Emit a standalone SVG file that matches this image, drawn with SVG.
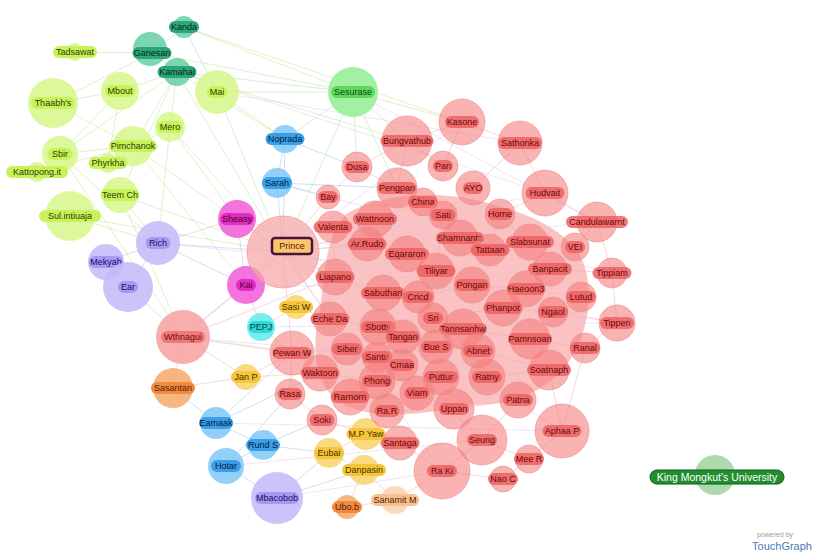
<svg xmlns="http://www.w3.org/2000/svg" width="817" height="558" viewBox="0 0 817 558">
<style>
text{font-family:"Liberation Sans",Arial,sans-serif;font-size:9px;text-anchor:middle}
.e path{fill:none;stroke-width:.8}
.lime circle{fill:#d6f78a;fill-opacity:.85}.lime rect{fill:#c8f25a}.lime text{fill:#2c3c00}
.teal circle{fill:#5acc9e;fill-opacity:.8}.teal rect{fill:#2fa57a}.teal text{fill:#002a1a}
.green circle{fill:#98ee98;fill-opacity:.9}.green rect{fill:#60d860}.green text{fill:#0a4a0a}
.blue circle{fill:#80c8f8;fill-opacity:.85}.blue rect{fill:#3a9ee8}.blue text{fill:#001a40}
.mag circle{fill:#f25ad8;fill-opacity:.85}.mag rect{fill:#e02cc0}.mag text{fill:#4a0030}
.pur circle{fill:#c2b8f8;fill-opacity:.85}.pur rect{fill:#a898f0}.pur text{fill:#1a0a6a}
.red circle{fill:#f47c7c;fill-opacity:.58;stroke:#ee8a8a;stroke-opacity:.6}.red rect{fill:#ec6262;fill-opacity:.85}.red text{fill:#6a0808}
.sal circle{fill:#f6a0a0;fill-opacity:.85}.sal rect{fill:#f07878}.sal text{fill:#7a0a0a}
.ora circle{fill:#f6a868;fill-opacity:.85}.ora rect{fill:#f08a40}.ora text{fill:#5a2000}
.gold circle{fill:#fad060;fill-opacity:.8}.gold rect{fill:#f5c53a}.gold text{fill:#4a3000}
.cyan circle{fill:#60eaea;fill-opacity:.85}.cyan rect{fill:#30d8d8}.cyan text{fill:#004444}
</style>
<rect width="817" height="558" fill="#ffffff"/>
<path id="cluster-shade" d="M345 215C375 195 430 190 475 200C520 210 560 225 580 255C595 285 590 330 570 360C545 395 510 405 470 405C420 415 375 420 345 405C315 390 310 350 320 310C325 270 325 240 345 215Z" fill="#f37878" fill-opacity=".45"/>
<g id="connectors" class="e">
<path stroke="#c8e6a0" stroke-opacity=".7" d="M184 27L353 92M184 27L462 122M152 53L353 92M152 53L75 52M152 53L53 103M177 72L120 91M177 72L60 154M177 72L170 127M177 72L133 146M177 72L120 195M177 72L407 141M177 72L283 252M177 72L285 139M217 92L353 92M217 92L283 252M120 91L60 154M120 91L108 163M133 146L60 154M133 146L283 252M170 127L283 252M170 127L158 243M53 103L133 146M120 195L283 252M70 216L283 252M70 216L158 243M60 154L158 243M37 172L133 146M108 163L170 127M120 195L158 243M53 103L120 91M217 92L285 139M170 127L237 219M133 146L246 285M120 195L183 337M60 154L183 337"/>
<path stroke="#b8e0d8" stroke-opacity=".8" d="M184 27L152 53M152 53L177 72M184 27L217 92M177 72L353 92"/>
<path stroke="#c0e8c0" stroke-opacity=".8" d="M353 92L407 141M353 92L285 139M353 92L283 252M353 92L357 167M353 92L462 122M353 92L397 188"/>
<path stroke="#b0d0f0" stroke-opacity=".8" d="M285 139L277 183M285 139L283 252M285 139L357 167M277 183L283 252M277 183L328 197M277 183L397 188M216 423L263 445M216 423L292 353M216 423L320 373M263 445L226 466M263 445L322 420M263 445L329 453M226 466L277 498M226 466L290 394M277 498L329 453M277 498L364 470M173 388L216 423"/>
<path stroke="#d8c0e8" stroke-opacity=".8" d="M237 219L283 252M237 219L158 243M237 219L246 285M246 285L283 252M246 285L183 337M246 285L158 243M246 285L261 327M158 243L128 287M158 243L106 262M106 262L128 287M158 243L283 252M128 287L183 337"/>
<path stroke="#f0c8b8" stroke-opacity=".8" d="M183 337L283 252M183 337L292 353M183 337L173 388M183 337L246 377M183 337L335 277M173 388L246 377M261 327L296 307M261 327L292 353M246 377L320 373M246 377L292 353M329 453L366 434M329 453L364 470M364 470L347 507M364 470L395 500M366 434L400 443M395 500L442 471M347 507L395 500M296 307L330 319"/>
<path stroke="#f0a8b8" stroke-opacity=".6" d="M462 122L407 141M462 122L520 143M462 122L443 166M407 141L357 167M407 141L397 188M407 141L443 166M520 143L545 193M520 143L473 188M545 193L597 222M545 193L500 214M597 222L612 273M597 222L575 247M612 273L617 323M617 323L585 348M585 348L562 431M562 431L529 459M562 431L549 370M529 459L503 479M503 479L442 471M442 471L482 440M482 440L529 459M482 440L518 400M442 471L400 443M400 443L322 420M322 420L290 394M290 394L292 353M292 353L283 252M283 252L328 197M328 197L357 167M357 167L397 188M283 252L335 277M283 252L367 244M283 252L330 319M335 277L383 293M383 293L418 297M418 297L472 285M472 285L526 289M526 289L581 297M397 188L423 202M423 202L460 238M460 238L490 250M490 250L530 242M530 242L575 247M367 244L407 254M407 254L436 271M436 271L472 285M330 319L378 327M378 327L403 337M403 337L463 329M463 329L530 339M530 339L585 348M347 349L377 357M377 357L436 347M436 347L478 351M478 351L549 370M320 373L377 381M377 381L441 377M441 377L487 377M487 377L549 370M350 397L417 393M417 393L454 409M454 409L518 400M387 411L454 409M292 353L347 349M473 188L443 215M443 215L436 271M500 214L490 250M500 214L550 269M550 269L612 273M553 312L617 323M503 308L553 312M433 318L503 308M375 219L333 227M375 219L423 202M333 227L335 277"/>
<path stroke="#d8c8e0" stroke-opacity=".55" d="M283 252L462 122M283 252L545 193M283 252L597 222M283 252L617 323M283 252L562 431M283 252L482 440M283 252L442 471M183 337L549 370M183 337L487 377M158 243L436 271M237 219L472 285M246 285L526 289M177 72L545 193M217 92L520 143M353 92L597 222M277 183L612 273M261 327L617 323M216 423L562 431M226 466L482 440M277 498L442 471"/>
</g>
<g id="n-kanda" class="teal"><circle cx="184" cy="27" r="11"/><rect x="169" y="21" width="30" height="12" rx="6"/><text x="184" y="30">Kanda</text></g>
<g id="n-ganesan" class="teal"><circle cx="150" cy="49" r="17"/><rect x="132.5" y="47" width="39" height="12" rx="6"/><text x="152" y="56">Ganesan</text></g>
<g id="n-kamahai" class="teal"><circle cx="177" cy="72" r="14"/><rect x="157.5" y="66" width="39" height="12" rx="6"/><text x="177" y="75">Kamahai</text></g>
<g id="n-tadsawat" class="lime"><circle cx="75" cy="52" r="9"/><rect x="53" y="46" width="44" height="12" rx="6"/><text x="75" y="55">Tadsawat</text></g>
<g id="n-thaabhs" class="lime"><circle cx="53" cy="103" r="25"/><rect x="31" y="97" width="44" height="12" rx="6"/><text x="53" y="106">Thaabh's</text></g>
<g id="n-mbout" class="lime"><circle cx="120" cy="91" r="19"/><rect x="105" y="85" width="30" height="12" rx="6"/><text x="120" y="94">Mbout</text></g>
<g id="n-mai" class="lime"><circle cx="217" cy="92" r="22"/><rect x="207" y="86" width="20" height="12" rx="6"/><text x="217" y="95">Mai</text></g>
<g id="n-mero" class="lime"><circle cx="170" cy="127" r="15"/><rect x="157.5" y="121" width="25" height="12" rx="6"/><text x="170" y="130">Mero</text></g>
<g id="n-pimchanok" class="lime"><circle cx="133" cy="146" r="20"/><rect x="109" y="140" width="48" height="12" rx="6"/><text x="133" y="149">Pimchanok</text></g>
<g id="n-sbir" class="lime"><circle cx="60" cy="154" r="18"/><rect x="47.5" y="148" width="25" height="12" rx="6"/><text x="60" y="157">Sbir</text></g>
<g id="n-phyrkha" class="lime"><circle cx="108" cy="163" r="10"/><rect x="88.5" y="157" width="39" height="12" rx="6"/><text x="108" y="166">Phyrkha</text></g>
<g id="n-kattopong" class="lime"><circle cx="37" cy="172" r="10"/><rect x="6" y="166" width="62" height="12" rx="6"/><text x="37" y="175">Kattopong.it</text></g>
<g id="n-teemch" class="lime"><circle cx="120" cy="195" r="18"/><rect x="100.5" y="189" width="39" height="12" rx="6"/><text x="120" y="198">Teem Ch</text></g>
<g id="n-sulintiuaja" class="lime"><circle cx="70" cy="216" r="25"/><rect x="39" y="210" width="62" height="12" rx="6"/><text x="70" y="219">Sul.intiuaja</text></g>
<g id="n-sesurase" class="green"><circle cx="353" cy="92" r="25"/><rect x="331" y="86" width="44" height="12" rx="6"/><text x="353" y="95">Sesurase</text></g>
<g id="n-noprada" class="blue"><circle cx="285" cy="139" r="14"/><rect x="265.5" y="133" width="39" height="12" rx="6"/><text x="285" y="142">Noprada</text></g>
<g id="n-sarah" class="blue"><circle cx="277" cy="183" r="15"/><rect x="262" y="177" width="30" height="12" rx="6"/><text x="277" y="186">Sarah</text></g>
<g id="n-eamaak" class="blue"><circle cx="216" cy="423" r="16"/><rect x="199" y="417" width="34" height="12" rx="6"/><text x="216" y="426">Eamaak</text></g>
<g id="n-rund" class="blue"><circle cx="263" cy="445" r="15"/><rect x="246" y="439" width="34" height="12" rx="6"/><text x="263" y="448">Rund S</text></g>
<g id="n-hotar" class="blue"><circle cx="226" cy="466" r="18"/><rect x="211" y="460" width="30" height="12" rx="6"/><text x="226" y="469">Hotar</text></g>
<g id="n-sheasy" class="mag"><circle cx="237" cy="219" r="19"/><rect x="220" y="213" width="34" height="12" rx="6"/><text x="237" y="222">Sheasy</text></g>
<g id="n-kai" class="mag"><circle cx="246" cy="285" r="19"/><rect x="236" y="279" width="20" height="12" rx="6"/><text x="246" y="288">Kai</text></g>
<g id="n-rich" class="pur"><circle cx="158" cy="243" r="22"/><rect x="145.5" y="237" width="25" height="12" rx="6"/><text x="158" y="246">Rich</text></g>
<g id="n-mekyah" class="pur"><circle cx="106" cy="262" r="18"/><rect x="89" y="256" width="34" height="12" rx="6"/><text x="106" y="265">Mekyah</text></g>
<g id="n-ear" class="pur"><circle cx="128" cy="287" r="25"/><rect x="118" y="281" width="20" height="12" rx="6"/><text x="128" y="290">Ear</text></g>
<g id="n-mbacobob" class="pur"><circle cx="277" cy="498" r="26"/><rect x="255" y="492" width="44" height="12" rx="6" fill="#7070e0"/><text x="277" y="501">Mbacobob</text></g>
<g id="n-wthnagui" class="sal"><circle cx="183" cy="337" r="27"/><rect x="161" y="331" width="44" height="12" rx="6"/><text x="183" y="340">Wthnagui</text></g>
<g id="n-sasantan" class="ora"><circle cx="173" cy="388" r="20"/><rect x="151" y="382" width="44" height="12" rx="6"/><text x="173" y="391">Sasantan</text></g>
<g id="n-ubob" class="ora"><circle cx="347" cy="507" r="12"/><rect x="332" y="501" width="30" height="12" rx="6"/><text x="347" y="510">Ubo.b</text></g>
<g id="n-sanamit" class="ora"><circle cx="395" cy="500" r="14" style="fill:#fad0b0"/><rect x="371" y="494" width="48" height="12" rx="6" style="fill:#f6c090"/><text x="395" y="503">Sanamit M</text></g>
<g id="n-pepj" class="cyan"><circle cx="261" cy="327" r="14"/><rect x="248.5" y="321" width="25" height="12" rx="6"/><text x="261" y="330">PEPJ</text></g>
<g id="n-sasiw" class="gold"><circle cx="296" cy="307" r="12"/><rect x="279" y="301" width="34" height="12" rx="6"/><text x="296" y="310">Sasi W</text></g>
<g id="n-janp" class="gold"><circle cx="246" cy="377" r="13"/><rect x="231" y="371" width="30" height="12" rx="6"/><text x="246" y="380">Jan P</text></g>
<g id="n-mpyaw" class="gold"><circle cx="366" cy="434" r="16"/><rect x="346.5" y="428" width="39" height="12" rx="6"/><text x="366" y="437">M.P Yaw</text></g>
<g id="n-eubai" class="gold"><circle cx="329" cy="453" r="15"/><rect x="314" y="447" width="30" height="12" rx="6"/><text x="329" y="456">Eubai</text></g>
<g id="n-danpasin" class="gold"><circle cx="364" cy="470" r="15"/><rect x="342" y="464" width="44" height="12" rx="6"/><text x="364" y="473">Danpasin</text></g>
<g id="n-prince" class="red"><circle cx="283" cy="252" r="36" style="fill:#f6a4a4;fill-opacity:.7"/><rect x="272" y="238" width="40" height="16" rx="3" style="fill:#f8c86a;fill-opacity:1" stroke="#4a1040" stroke-width="2.5"/><text x="292" y="249">Prince</text></g>
<g id="n-kasone" class="red"><circle cx="462" cy="122" r="23"/><rect x="445" y="116" width="34" height="12" rx="6"/><text x="462" y="125">Kasone</text></g>
<g id="n-bungvathub" class="red"><circle cx="407" cy="141" r="25"/><rect x="380.5" y="135" width="53" height="12" rx="6"/><text x="407" y="144">Bungvathub</text></g>
<g id="n-sathonka" class="red"><circle cx="520" cy="143" r="22"/><rect x="498" y="137" width="44" height="12" rx="6"/><text x="520" y="146">Sathonka</text></g>
<g id="n-pan" class="red"><circle cx="443" cy="166" r="15"/><rect x="433" y="160" width="20" height="12" rx="6"/><text x="443" y="169">Pan</text></g>
<g id="n-dusa" class="red"><circle cx="357" cy="167" r="15"/><rect x="344.5" y="161" width="25" height="12" rx="6"/><text x="357" y="170">Dusa</text></g>
<g id="n-pengpan" class="red"><circle cx="397" cy="188" r="20"/><rect x="377.5" y="182" width="39" height="12" rx="6"/><text x="397" y="191">Pengpan</text></g>
<g id="n-ayo" class="red"><circle cx="473" cy="188" r="17"/><rect x="463" y="182" width="20" height="12" rx="6"/><text x="473" y="191">AYO</text></g>
<g id="n-hudvait" class="red"><circle cx="545" cy="193" r="23"/><rect x="525.5" y="187" width="39" height="12" rx="6"/><text x="545" y="196">Hudvait</text></g>
<g id="n-bay" class="red"><circle cx="328" cy="197" r="12"/><rect x="318" y="191" width="20" height="12" rx="6"/><text x="328" y="200">Bay</text></g>
<g id="n-china" class="red"><circle cx="423" cy="202" r="14"/><rect x="408" y="196" width="30" height="12" rx="6"/><text x="423" y="205">China</text></g>
<g id="n-sati" class="red"><circle cx="443" cy="215" r="14"/><rect x="430.5" y="209" width="25" height="12" rx="6"/><text x="443" y="218">Sati</text></g>
<g id="n-home" class="red"><circle cx="500" cy="214" r="15"/><rect x="487.5" y="208" width="25" height="12" rx="6"/><text x="500" y="217">Home</text></g>
<g id="n-valenta" class="red"><circle cx="333" cy="227" r="16"/><rect x="313.5" y="221" width="39" height="12" rx="6"/><text x="333" y="230">Valenta</text></g>
<g id="n-wattnoon" class="red"><circle cx="375" cy="219" r="18"/><rect x="353" y="213" width="44" height="12" rx="6"/><text x="375" y="222">Wattnoon</text></g>
<g id="n-candulawarnt" class="red"><circle cx="597" cy="222" r="20"/><rect x="566" y="216" width="62" height="12" rx="6"/><text x="597" y="225">Candulawarnt</text></g>
<g id="n-shamnanta" class="red"><circle cx="460" cy="238" r="18"/><rect x="436" y="232" width="48" height="12" rx="6"/><text x="460" y="241">Shamnanta</text></g>
<g id="n-tattaan" class="red"><circle cx="490" cy="250" r="16"/><rect x="470.5" y="244" width="39" height="12" rx="6"/><text x="490" y="253">Tattaan</text></g>
<g id="n-slabsunat" class="red"><circle cx="530" cy="242" r="18"/><rect x="506" y="236" width="48" height="12" rx="6"/><text x="530" y="245">Slabsunat</text></g>
<g id="n-vei" class="red"><circle cx="575" cy="247" r="14"/><rect x="565" y="241" width="20" height="12" rx="6"/><text x="575" y="250">VEI</text></g>
<g id="n-arrudo" class="red"><circle cx="367" cy="244" r="17"/><rect x="347.5" y="238" width="39" height="12" rx="6"/><text x="367" y="247">Ar.Rudo</text></g>
<g id="n-eqararon" class="red"><circle cx="407" cy="254" r="18"/><rect x="385" y="248" width="44" height="12" rx="6"/><text x="407" y="257">Eqararon</text></g>
<g id="n-tiliyar" class="red"><circle cx="436" cy="271" r="18"/><rect x="416.5" y="265" width="39" height="12" rx="6"/><text x="436" y="274">Tiliyar</text></g>
<g id="n-banpacit" class="red"><circle cx="550" cy="269" r="17"/><rect x="528" y="263" width="44" height="12" rx="6"/><text x="550" y="272">Banpacit</text></g>
<g id="n-tippiam" class="red"><circle cx="612" cy="273" r="15"/><rect x="592.5" y="267" width="39" height="12" rx="6"/><text x="612" y="276">Tippiam</text></g>
<g id="n-liapano" class="red"><circle cx="335" cy="277" r="18"/><rect x="315.5" y="271" width="39" height="12" rx="6"/><text x="335" y="280">Liapano</text></g>
<g id="n-sabuthan" class="red"><circle cx="383" cy="293" r="18"/><rect x="361" y="287" width="44" height="12" rx="6"/><text x="383" y="296">Sabuthan</text></g>
<g id="n-cricd" class="red"><circle cx="418" cy="297" r="16"/><rect x="403" y="291" width="30" height="12" rx="6"/><text x="418" y="300">Cricd</text></g>
<g id="n-pongan" class="red"><circle cx="472" cy="285" r="18"/><rect x="455" y="279" width="34" height="12" rx="6"/><text x="472" y="288">Pongan</text></g>
<g id="n-haeoon3" class="red"><circle cx="526" cy="289" r="18"/><rect x="506.5" y="283" width="39" height="12" rx="6"/><text x="526" y="292">Haeoon3</text></g>
<g id="n-lutud" class="red"><circle cx="581" cy="297" r="15"/><rect x="566" y="291" width="30" height="12" rx="6"/><text x="581" y="300">Lutud</text></g>
<g id="n-phanpot" class="red"><circle cx="503" cy="308" r="18"/><rect x="483.5" y="302" width="39" height="12" rx="6"/><text x="503" y="311">Phanpot</text></g>
<g id="n-ngaol" class="red"><circle cx="553" cy="312" r="15"/><rect x="538" y="306" width="30" height="12" rx="6"/><text x="553" y="315">Ngaol</text></g>
<g id="n-tippen" class="red"><circle cx="617" cy="323" r="18"/><rect x="600" y="317" width="34" height="12" rx="6"/><text x="617" y="326">Tippen</text></g>
<g id="n-echeda" class="red"><circle cx="330" cy="319" r="17"/><rect x="310.5" y="313" width="39" height="12" rx="6"/><text x="330" y="322">Eche Da</text></g>
<g id="n-sri" class="red"><circle cx="433" cy="318" r="15"/><rect x="423" y="312" width="20" height="12" rx="6"/><text x="433" y="321">Sri</text></g>
<g id="n-sbotty" class="red"><circle cx="378" cy="327" r="18"/><rect x="361" y="321" width="34" height="12" rx="6"/><text x="378" y="330">Sbotty</text></g>
<g id="n-tangan" class="red"><circle cx="403" cy="337" r="17"/><rect x="386" y="331" width="34" height="12" rx="6"/><text x="403" y="340">Tangan</text></g>
<g id="n-tannsanhw" class="red"><circle cx="463" cy="329" r="20"/><rect x="439" y="323" width="48" height="12" rx="6"/><text x="463" y="332">Tannsanhw</text></g>
<g id="n-pamnsoan" class="red"><circle cx="530" cy="339" r="20"/><rect x="508" y="333" width="44" height="12" rx="6"/><text x="530" y="342">Pamnsoan</text></g>
<g id="n-ranal" class="red"><circle cx="585" cy="348" r="15"/><rect x="570" y="342" width="30" height="12" rx="6"/><text x="585" y="351">Ranal</text></g>
<g id="n-pewanw" class="red"><circle cx="292" cy="353" r="22"/><rect x="272.5" y="347" width="39" height="12" rx="6"/><text x="292" y="356">Pewan W</text></g>
<g id="n-siber" class="red"><circle cx="347" cy="349" r="16"/><rect x="332" y="343" width="30" height="12" rx="6"/><text x="347" y="352">Siber</text></g>
<g id="n-santu" class="red"><circle cx="377" cy="357" r="15"/><rect x="362" y="351" width="30" height="12" rx="6"/><text x="377" y="360">Santu</text></g>
<g id="n-bues" class="red"><circle cx="436" cy="347" r="17"/><rect x="421" y="341" width="30" height="12" rx="6"/><text x="436" y="350">Bue S</text></g>
<g id="n-abnet" class="red"><circle cx="478" cy="351" r="17"/><rect x="463" y="345" width="30" height="12" rx="6"/><text x="478" y="354">Abnet</text></g>
<g id="n-cmaa" class="red"><circle cx="402" cy="365" r="16"/><rect x="389.5" y="359" width="25" height="12" rx="6"/><text x="402" y="368">Cmaa</text></g>
<g id="n-waktoon" class="red"><circle cx="320" cy="373" r="18"/><rect x="300.5" y="367" width="39" height="12" rx="6"/><text x="320" y="376">Waktoon</text></g>
<g id="n-phong" class="red"><circle cx="377" cy="381" r="18"/><rect x="362" y="375" width="30" height="12" rx="6"/><text x="377" y="384">Phong</text></g>
<g id="n-puttur" class="red"><circle cx="441" cy="377" r="18"/><rect x="424" y="371" width="34" height="12" rx="6"/><text x="441" y="380">Puttur</text></g>
<g id="n-ratny" class="red"><circle cx="487" cy="377" r="18"/><rect x="472" y="371" width="30" height="12" rx="6"/><text x="487" y="380">Ratny</text></g>
<g id="n-soatnaph" class="red"><circle cx="549" cy="370" r="20"/><rect x="527" y="364" width="44" height="12" rx="6"/><text x="549" y="373">Soatnaph</text></g>
<g id="n-rasa" class="red"><circle cx="290" cy="394" r="15"/><rect x="277.5" y="388" width="25" height="12" rx="6"/><text x="290" y="397">Rasa</text></g>
<g id="n-rarnorn" class="red"><circle cx="350" cy="397" r="18"/><rect x="330.5" y="391" width="39" height="12" rx="6"/><text x="350" y="400">Rarnorn</text></g>
<g id="n-viam" class="red"><circle cx="417" cy="393" r="17"/><rect x="404.5" y="387" width="25" height="12" rx="6"/><text x="417" y="396">Viam</text></g>
<g id="n-patna" class="red"><circle cx="518" cy="400" r="18"/><rect x="503" y="394" width="30" height="12" rx="6"/><text x="518" y="403">Patna</text></g>
<g id="n-rar" class="red"><circle cx="387" cy="411" r="17"/><rect x="374.5" y="405" width="25" height="12" rx="6"/><text x="387" y="414">Ra.R</text></g>
<g id="n-uppan" class="red"><circle cx="454" cy="409" r="20"/><rect x="439" y="403" width="30" height="12" rx="6"/><text x="454" y="412">Uppan</text></g>
<g id="n-soki" class="red"><circle cx="322" cy="420" r="15"/><rect x="309.5" y="414" width="25" height="12" rx="6"/><text x="322" y="423">Soki</text></g>
<g id="n-santaga" class="red"><circle cx="400" cy="443" r="17"/><rect x="380.5" y="437" width="39" height="12" rx="6"/><text x="400" y="446">Santaga</text></g>
<g id="n-aphaap" class="red"><circle cx="562" cy="431" r="27"/><rect x="542.5" y="425" width="39" height="12" rx="6"/><text x="562" y="434">Aphaa P</text></g>
<g id="n-seung" class="red"><circle cx="482" cy="440" r="25"/><rect x="467" y="434" width="30" height="12" rx="6"/><text x="482" y="443">Seung</text></g>
<g id="n-raki" class="red"><circle cx="442" cy="471" r="28"/><rect x="427" y="465" width="30" height="12" rx="6"/><text x="442" y="474">Ra Ki</text></g>
<g id="n-meer" class="red"><circle cx="529" cy="459" r="14"/><rect x="514" y="453" width="30" height="12" rx="6"/><text x="529" y="462">Mee R</text></g>
<g id="n-naoc" class="red"><circle cx="503" cy="479" r="13"/><rect x="488" y="473" width="30" height="12" rx="6"/><text x="503" y="482">Nao C</text></g>
<g id="n-kmu"><circle cx="715" cy="475" r="20" fill="#98d098" fill-opacity=".8"/><rect x="650" y="470" width="134" height="14" rx="7" fill="#1f8f2f" stroke="#0c5c18"/><text x="717" y="480.5" fill="#ffffff" style="font-size:10.5px">King Mongkut's University</text></g>
<text x="775" y="537" fill="#a0a0a0" style="font-size:7px">powered by</text>
<text x="782" y="550" fill="#4a7ab8" style="font-size:11px">TouchGraph</text>
</svg>
